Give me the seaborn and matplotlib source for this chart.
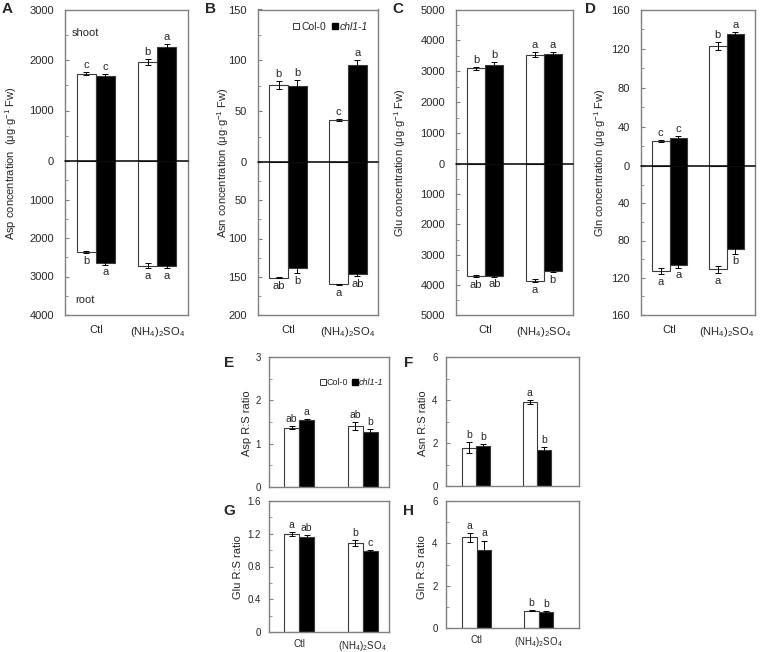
import numpy as np
import pandas as pd
import matplotlib
matplotlib.use("Agg")
import matplotlib.pyplot as plt
import seaborn as sns
from matplotlib.ticker import MultipleLocator, FuncFormatter
from matplotlib.lines import Line2D

# ---------------- data ----------------
treatments = ["Ctl", "(NH$_4$)$_2$SO$_4$"]
genotypes = ["Col-0", "chl1-1"]
# order of each list: Col-0/Ctl, Col-0/(NH4)2SO4, chl1-1/Ctl, chl1-1/(NH4)2SO4

asp_shoot = [1730, 1960, 1690, 2260]
asp_shoot_err = [30, 60, 40, 50]
asp_shoot_sig = ["c", "b", "c", "a"]
asp_root = [2370, 2720, 2640, 2740]
asp_root_err = [30, 70, 50, 40]
asp_root_sig = ["b", "a", "a", "a"]

asn_shoot = [76, 41, 75, 95]
asn_shoot_err = [4, 1, 6, 5]
asn_shoot_sig = ["b", "c", "b", "a"]
asn_root = [151, 160, 139, 146]
asn_root_err = [1, 1, 6, 3]
asn_root_sig = ["ab", "a", "b", "ab"]

glu_shoot = [3100, 3530, 3210, 3560]
glu_shoot_err = [50, 80, 80, 50]
glu_shoot_sig = ["b", "a", "b", "a"]
glu_root = [3700, 3860, 3700, 3530]
glu_root_err = [40, 50, 30, 60]
glu_root_sig = ["ab", "a", "ab", "b"]

gln_shoot = [26, 123, 29, 135]
gln_shoot_err = [1, 4, 2, 2]
gln_shoot_sig = ["c", "b", "c", "a"]
gln_root = [113, 111, 106, 89]
gln_root_err = [3, 4, 3, 5]
gln_root_sig = ["a", "a", "a", "b"]

asp_rs = [1.37, 1.40, 1.55, 1.27]
asp_rs_err = [0.04, 0.09, 0.02, 0.06]
asp_rs_sig = ["ab", "ab", "a", "b"]

asn_rs = [1.78, 3.91, 1.88, 1.67]
asn_rs_err = [0.25, 0.08, 0.08, 0.15]
asn_rs_sig = ["b", "a", "b", "b"]

glu_rs = [1.20, 1.09, 1.16, 0.99]
glu_rs_err = [0.025, 0.035, 0.02, 0.01]
glu_rs_sig = ["a", "b", "ab", "c"]

gln_rs = [4.28, 0.82, 3.68, 0.74]
gln_rs_err = [0.20, 0.04, 0.45, 0.06]
gln_rs_sig = ["a", "b", "a", "b"]

conc_labels = ["Asp concentration  (\u03bcg\u00b7g$^{-1}$ Fw)",
               "Asn concentration (\u03bcg\u00b7g$^{-1}$ Fw)",
               "Glu concentration (\u03bcg\u00b7g$^{-1}$ Fw)",
               "Gln concentration (\u03bcg\u00b7g$^{-1}$ Fw)"]
ratio_labels = ["Asp R:S ratio", "Asn R:S ratio", "Glu R:S ratio", "Gln R:S ratio"]

# ---------------- style ----------------
sns.set_style("white")
plt.rcParams["font.family"] = ["Liberation Sans", "DejaVu Sans"]
plt.rcParams["mathtext.default"] = "regular"
FRAME = "#808080"

W, H = 761, 652
fig = plt.figure(figsize=(W / 100, H / 100), dpi=100)


def px_axes(L, R, T, B):
    return fig.add_axes([L / W, 1 - B / H, (R - L) / W, (B - T) / H])


def draw_bars(ax, vals, errs, sigs, width, fs, inverted=False):
    df = pd.DataFrame({
        "treatment": [t for g in genotypes for t in treatments],
        "genotype": [g for g in genotypes for t in treatments],
        "value": vals,
    })
    sns.barplot(data=df, x="treatment", y="value", hue="genotype",
                order=treatments, hue_order=genotypes,
                palette={"Col-0": "white", "chl1-1": "black"},
                edgecolor="#3a3a3a", linewidth=0.8, width=width,
                errorbar=None, legend=False, ax=ax, zorder=2)
    bars = [b for cont in list(ax.containers) for b in cont]
    for k, bar in enumerate(bars):
        x = bar.get_x() + bar.get_width() / 2
        ax.errorbar(x, vals[k], yerr=errs[k], fmt="none", ecolor="black",
                    elinewidth=0.7, capsize=2.0, capthick=0.7, zorder=3)
        ax.annotate(sigs[k], (x, vals[k] + errs[k]),
                    xytext=(0, -2 if inverted else 1.5), textcoords="offset points",
                    ha="center", va="top" if inverted else "bottom", fontsize=fs)
    ax.set_xlabel("")
    ax.set_ylabel("")


def style_y(ax, major, minor, fs, pad, hide_zero=False):
    ax.yaxis.set_major_locator(MultipleLocator(major))
    ax.yaxis.set_minor_locator(MultipleLocator(minor))
    if hide_zero:
        ax.yaxis.set_major_formatter(FuncFormatter(lambda v, p: "" if abs(v) < 1e-9 else f"{v:g}"))
    else:
        ax.yaxis.set_major_formatter(FuncFormatter(lambda v, p: f"{v:g}"))
    ax.tick_params(axis="y", which="both", direction="in", left=True, color=FRAME,
                   labelsize=fs, pad=pad)
    ax.tick_params(axis="y", which="major", length=3)
    ax.tick_params(axis="y", which="minor", length=2)


# ---------------- top panels (A-D) ----------------
top_panels = [
    ("A", 65, 188, 161, asp_shoot, asp_shoot_err, asp_shoot_sig, asp_root, asp_root_err, asp_root_sig,
     3000, 4000, 1000, 500, 11, 7),
    ("B", 258, 378, 162, asn_shoot, asn_shoot_err, asn_shoot_sig, asn_root, asn_root_err, asn_root_sig,
     150, 200, 50, 25, 223, 211),
    ("C", 456, 573, 164, glu_shoot, glu_shoot_err, glu_shoot_sig, glu_root, glu_root_err, glu_root_sig,
     5000, 5000, 1000, 500, 400, 398),
    ("D", 641, 755, 166, gln_shoot, gln_shoot_err, gln_shoot_sig, gln_root, gln_root_err, gln_root_sig,
     160, 160, 40, 20, 600, 590),
]
TOP, BOT = 9.5, 315

for i, (letter, L, R, Z, sv, se, ss, rv, re_, rs, smax, rmax, maj, mnr, ylx, lx) in enumerate(top_panels):
    ax_s = px_axes(L, R, TOP, Z)
    ax_r = px_axes(L, R, Z, BOT)
    ax_s.set_zorder(3)
    ax_s.patch.set_visible(False)
    draw_bars(ax_s, sv, se, ss, 0.62, 8)
    draw_bars(ax_r, rv, re_, rs, 0.62, 8, inverted=True)
    ax_s.set_ylim(0, smax)
    ax_r.set_ylim(rmax, 0)
    for ax in (ax_s, ax_r):
        ax.set_xlim(-0.5, 1.5)
        for sp in ax.spines.values():
            sp.set_color(FRAME)
            sp.set_linewidth(1.0)
            sp.set_visible(True)
    ax_s.spines["bottom"].set_visible(False)
    ax_r.spines["top"].set_visible(False)
    ax_s.axhline(0, color="black", lw=1.1, zorder=6, clip_on=False)
    style_y(ax_s, maj, mnr, 8, 8)
    style_y(ax_r, maj, mnr, 8, 8, hide_zero=True)
    ax_s.tick_params(axis="x", length=0, labelbottom=False)
    ax_r.set_xticks([0, 1])
    ax_r.set_xticklabels(treatments)
    ax_r.tick_params(axis="x", length=0, labelsize=8, pad=7)
    fig.text(ylx / W, 1 - 163 / H, conc_labels[i], rotation=90, ha="center", va="center", fontsize=8)
    fig.text(lx / W, 1 - 9 / H, letter, ha="center", va="center", fontsize=11, fontweight="bold")
    if letter == "A":
        ax_s.text(72 / W, 1 - 33 / H, "shoot", transform=fig.transFigure, ha="left", va="center", fontsize=8)
        ax_r.text(75 / W, 1 - 300 / H, "root", transform=fig.transFigure, ha="left", va="center", fontsize=8)
    if letter == "B":
        handles = [Line2D([], [], marker="s", ls="none", markerfacecolor="white", markeredgecolor="#3a3a3a",
                          markeredgewidth=0.7, markersize=5),
                   Line2D([], [], marker="s", ls="none", markerfacecolor="black", markeredgecolor="black",
                          markersize=5)]
        leg = ax_s.legend(handles, genotypes, loc="upper right", bbox_to_anchor=(0.97, 0.96), frameon=False,
                          ncol=2, fontsize=7.5, handlelength=0.6, handletextpad=0.15, columnspacing=0.6,
                          borderaxespad=0.2)
        leg.get_texts()[1].set_style("italic")

# ---------------- bottom panels (E-H) ----------------
bottom_panels = [
    ("E", 269, 389, 357, 487, asp_rs, asp_rs_err, asp_rs_sig, 3, 1, 0.5, (-0.47, 1.41), 247, 423, 229, 363, False),
    ("F", 446, 579, 357, 486, asn_rs, asn_rs_err, asn_rs_sig, 6, 2, 1, (-0.49, 1.69), 423, 423, 409, 363, False),
    ("G", 269, 389, 501, 632, glu_rs, glu_rs_err, glu_rs_sig, 1.6, 0.4, 0.2, (-0.47, 1.41), 238, 567, 229, 511, True),
    ("H", 446, 579, 501, 628, gln_rs, gln_rs_err, gln_rs_sig, 6, 2, 1, (-0.5, 1.65), 422, 567, 409, 511, True),
]
for j, (letter, L, R, T, B, v, e, s, ymax, maj, mnr, xl, ylx, yly, lx, ly, show_x) in enumerate(bottom_panels):
    ax = px_axes(L, R, T, B)
    draw_bars(ax, v, e, s, 0.47, 7.5)
    ax.set_ylim(0, ymax)
    ax.set_xlim(*xl)
    for sp in ax.spines.values():
        sp.set_color(FRAME)
        sp.set_linewidth(1.0)
        sp.set_visible(True)
    style_y(ax, maj, mnr, 7, 6)
    ax.set_xticks([0, 1])
    if show_x:
        ax.set_xticklabels(treatments)
        ax.tick_params(axis="x", length=0, labelsize=7, pad=5)
    else:
        ax.tick_params(axis="x", length=0, labelbottom=False)
    fig.text(ylx / W, 1 - yly / H, ratio_labels[j], rotation=90, ha="center", va="center", fontsize=8)
    fig.text(lx / W, 1 - ly / H, letter, ha="center", va="center", fontsize=11, fontweight="bold")
    if letter == "E":
        handles = [Line2D([], [], marker="s", ls="none", markerfacecolor="white", markeredgecolor="#3a3a3a",
                          markeredgewidth=0.7, markersize=4.5),
                   Line2D([], [], marker="s", ls="none", markerfacecolor="black", markeredgecolor="black",
                          markersize=4.5)]
        leg = ax.legend(handles, genotypes, loc="upper right", bbox_to_anchor=(1.0, 0.88), frameon=False,
                        ncol=2, fontsize=6.5, handlelength=0.6, handletextpad=0.1, columnspacing=0.5,
                        borderaxespad=0.2)
        leg.get_texts()[1].set_style("italic")

fig.savefig("out.png", dpi=100)
